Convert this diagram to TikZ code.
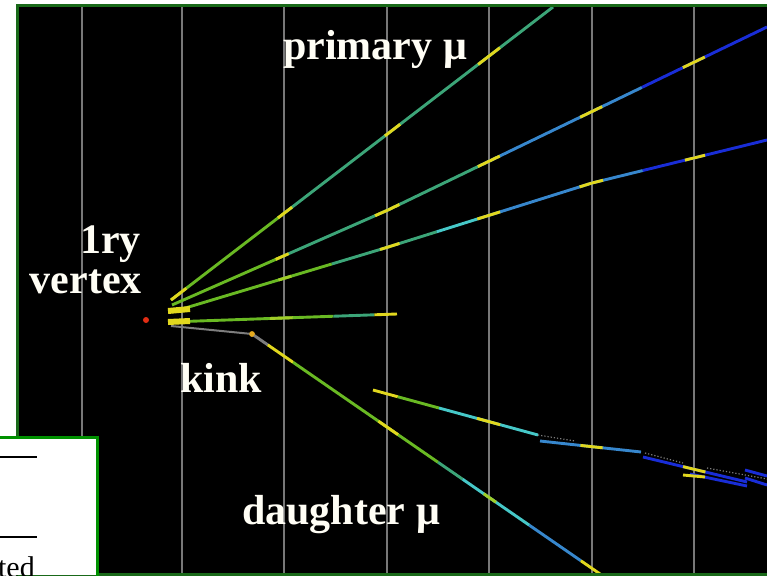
\documentclass[tikz,border=0pt]{standalone}
\usepackage{fontspec}
\setmainfont{Liberation Serif}
\usetikzlibrary{calc}

\definecolor{framegreen}{RGB}{25,105,25}
\definecolor{boxgreen}{RGB}{0,145,0}
\definecolor{plategray}{RGB}{120,120,120}
\definecolor{tgreen}{RGB}{105,185,35}
\definecolor{tlime}{RGB}{160,205,40}
\definecolor{tteal}{RGB}{60,165,120}
\definecolor{tcyan}{RGB}{70,200,200}
\definecolor{tsky}{RGB}{55,135,205}
\definecolor{tblue}{RGB}{25,45,215}
\definecolor{tyel}{RGB}{225,215,30}
\definecolor{tgray}{RGB}{125,125,125}
\definecolor{kinkdot}{RGB}{230,170,30}
\definecolor{vtxdot}{RGB}{225,45,20}

\tikzset{trk/.style={draw=#1,line width=2.9pt}}

\begin{document}
\begin{tikzpicture}[x=1pt,y=-1pt,
    plate/.style={draw=plategray,line width=2pt},
    blob/.style={draw=tyel,line width=6pt},
    lbl/.style={text=white!96!yellow,inner sep=0pt,font=\fontsize{42}{46}\selectfont\bfseries},
    hitdot/.style={circle,fill=#1,inner sep=0pt,minimum size=5.5pt}]
  \useasboundingbox (0,0) rectangle (767,575);
  \fill[white] (0,0) rectangle (767,575);
  \fill[black] (17,6) rectangle (767,574);
  \foreach \x in {82,182,284,387,489,592,694}
    \draw[plate] (\x,7.5) -- (\x,572.5);

  % points of the tracks
  \coordinate (a0) at (171,300); \coordinate (a1) at (553,7);
  \coordinate (b0) at (172,305); \coordinate (b1) at (388,210); \coordinate (b2) at (767,27);
  \coordinate (c0) at (172,312); \coordinate (c1) at (385,248);
  \coordinate (c2) at (592,183); \coordinate (c3) at (767,140);
  \coordinate (d0) at (170,322); \coordinate (d1) at (397,314);
  \coordinate (e0) at (171,326); \coordinate (m1) at (603,576);
  \coordinate (f0) at (373,390); \coordinate (f1) at (538,435);
  \coordinate (f2) at (540,441); \coordinate (f3) at (641,452);
  \coordinate (f4) at (643,457); \coordinate (f5) at (747,482);

  \node[hitdot=vtxdot,minimum size=6pt] (vtx) at (146,320) {};
  \node[hitdot=kinkdot] (kink) at (252,334) {};

  \foreach \s/\e/\c in {0/.3/tgreen,.3/1/tteal,0/.04/tyel,.28/.317/tyel,.56/.6/tyel,.804/.861/tyel}
    \draw[trk=\c] ($(a0)!\s!(a1)$) -- ($(a0)!\e!(a1)$);
  \foreach \s/\e/\c in {0/.5/tgreen,.5/1/tteal,.48/.54/tyel,.94/1/tyel}
    \draw[trk=\c] ($(b0)!\s!(b1)$) -- ($(b0)!\e!(b1)$);
  \foreach \s/\e/\c in {0/.24/tteal,.24/.67/tsky,.67/1/tblue,0/.03/tyel,.237/.295/tyel,.507/.565/tyel,.778/.836/tyel}
    \draw[trk=\c] ($(b1)!\s!(b2)$) -- ($(b1)!\e!(b2)$);
  \foreach \s/\e/\c in {0/.75/tgreen,.75/1/tteal,.5/.56/tlime,.977/1/tyel}
    \draw[trk=\c] ($(c0)!\s!(c1)$) -- ($(c0)!\e!(c1)$);
  \foreach \s/\e/\c in {0/.25/tteal,.25/.46/tcyan,.46/1/tsky,0/.07/tyel,.446/.556/tyel,.94/1/tyel}
    \draw[trk=\c] ($(c1)!\s!(c2)$) -- ($(c1)!\e!(c2)$);
  \foreach \s/\e/\c in {0/.29/tsky,.29/1/tblue,0/.063/tyel,.531/.646/tyel}
    \draw[trk=\c] ($(c2)!\s!(c3)$) -- ($(c2)!\e!(c3)$);
  \foreach \s/\e/\c in {0/.72/tgreen,.72/.9/tteal,.44/.54/tlime,.9/1/tyel}
    \draw[trk=\c] ($(d0)!\s!(d1)$) -- ($(d0)!\e!(d1)$);

  % parent and daughter at the kink
  \draw[tgray,line width=2pt] (e0) -- (kink.center);
  \foreach \s/\e/\c in {0/.045/tgray,.045/.117/tyel,.117/.53/tgreen,.36/.416/tyel,.53/.6/tteal,
      .6/.79/tcyan,.66/.695/tlime,.79/.937/tsky,.937/1/tyel}
    \draw[trk=\c] ($(kink.center)!\s!(m1)$) -- ($(kink.center)!\e!(m1)$);
  \node[hitdot=kinkdot] at (kink) {};

  \draw[blob] (168,311) -- (190,309);
  \draw[blob] (168,322) -- (190,321);

  % lower track and its pieces
  \foreach \s/\e/\c in {0/.15/tyel,.15/.4/tgreen,.4/1/tcyan,.63/.77/tyel}
    \draw[trk=\c] ($(f0)!\s!(f1)$) -- ($(f0)!\e!(f1)$);
  \foreach \s/\e/\c in {0/1/tsky,.4/.62/tyel}
    \draw[trk=\c] ($(f2)!\s!(f3)$) -- ($(f2)!\e!(f3)$);
  \foreach \s/\e/\c in {0/1/tblue,.385/.6/tyel}
    \draw[trk=\c] ($(f4)!\s!(f5)$) -- ($(f4)!\e!(f5)$);
  \draw[trk=tblue] (690,474) -- (747,486);
  \draw[trk=tyel] (683,475) -- (705,477);
  \draw[trk=tblue] (745,470) -- (767,476);
  \draw[trk=tblue] (745,478) -- (767,485);
  \draw[tgray,dotted,line width=1.2pt] (f1) -- (575,441);
  \draw[tgray,dotted,line width=1.2pt] (645,453) -- (683,463);
  \draw[tgray,dotted,line width=1.2pt] (707,468) -- (767,479);

  \draw[framegreen,line width=3pt] (767,6) -- (17,6) -- (17,574) -- (767,574);

  \node[lbl,anchor=base west] (prim) at (283,60) {primary μ};
  \node[lbl,anchor=base east] (ry) at (141,253) {1ry};
  \node[lbl,anchor=base east] (vertex) at (142,293) {vertex};
  \node[lbl,anchor=base west] (kinklbl) at (180,392) {kink};
  \node[lbl,anchor=base west] (daughter) at (242,524) {daughter μ};

  % corner of the table
  \fill[white] (0,437) rectangle (97,575);
  \draw[line width=1.4pt] (0,457) -- (37,457);
  \draw[line width=1.4pt] (0,537) -- (37,537);
  \begin{scope}
    \clip (0,437) rectangle (97,575);
    \node[anchor=base east,inner sep=0pt,font=\fontsize{30}{32}\selectfont] (tail) at (35,577) {ted};
  \end{scope}
  \draw[boxgreen,line width=3pt] (0,437) -- (97,437) -- (97,576);
\end{tikzpicture}
\end{document}
